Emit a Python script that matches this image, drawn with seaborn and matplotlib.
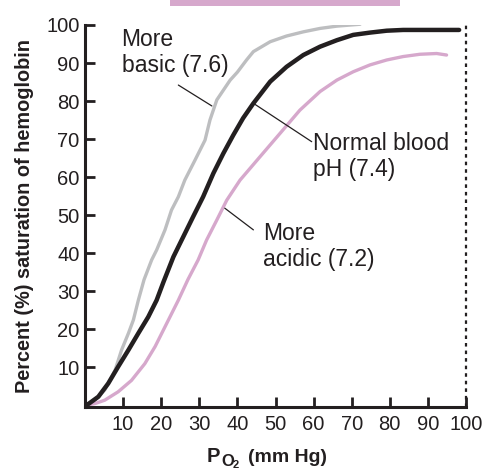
import matplotlib
matplotlib.use("Agg")
import matplotlib.pyplot as plt
from matplotlib.patches import Rectangle
import numpy as np
import pandas as pd
import seaborn as sns

# oxygen-hemoglobin dissociation curves
basic_po2 = [0, 2.6, 5.2, 7.9, 9.6, 11.4, 12.7, 14.0, 15.5, 17.5, 18.8, 21.0,
             22.7, 24.5, 26.2, 28.9, 31.5, 32.8, 34.6, 38.1, 40.0, 42.4, 44.2,
             48.6, 52.9, 57.3, 61.7, 66.1, 72.2]
basic_sat = [0, 1.3, 4.0, 9.2, 14.5, 18.9, 22.4, 27.6, 33.0, 38.2, 40.8, 46.1,
             51.3, 54.8, 59.2, 64.5, 69.7, 75.0, 80.3, 85.5, 87.6, 90.8, 93.0,
             95.6, 97.1, 98.2, 99.1, 99.7, 100.2]

normal_po2 = [0, 0.9, 3.5, 6.1, 8.7, 11.4, 14.0, 16.6, 18.8, 20.6, 23.2, 25.8,
              28.4, 31.0, 33.7, 36.3, 38.9, 41.5, 44.2, 48.6, 52.9, 57.3, 61.7,
              66.1, 70.4, 74.8, 79.2, 83.5, 98.2]
normal_sat = [0, 0.3, 2.2, 5.7, 10.1, 14.5, 18.9, 23.2, 27.6, 32.4, 39.0, 44.3,
              49.6, 54.8, 61.0, 66.2, 71.0, 75.5, 79.4, 85.1, 89.0, 92.1, 94.3,
              96.0, 97.4, 98.0, 98.5, 98.7, 98.7]

acidic_po2 = [0.5, 2.6, 5.2, 8.7, 12.2, 15.7, 18.4, 21.0, 23.2, 24.5, 27.0,
              29.7, 31.9, 34.6, 37.2, 40.7, 45.9, 51.2, 56.4, 61.7, 66.1, 70.4,
              74.8, 79.2, 83.5, 87.9, 92.3, 94.9]
acidic_sat = [0, 0.4, 1.3, 3.5, 6.5, 10.9, 15.4, 20.6, 25.0, 27.6, 33.0,
              38.2, 43.4, 48.7, 53.9, 59.2, 65.3, 71.5, 77.6, 82.5, 85.5, 87.7,
              89.5, 90.8, 91.7, 92.3, 92.5, 92.1]

ticks = [10, 20, 30, 40, 50, 60, 70, 80, 90, 100]

ink = "#231F20"
gray = "#BDBEC0"
pink = "#D6A8CC"

sns.set_style("ticks")
plt.rcParams["font.family"] = ["Liberation Sans", "DejaVu Sans"]

fig = plt.figure(figsize=(4.87, 4.71), dpi=100)
ax = fig.add_axes([85 / 487, 64 / 471, 381 / 487, 382 / 471])

df = pd.concat([
    pd.DataFrame({"po2": basic_po2, "sat": basic_sat, "ph": "7.6"}),
    pd.DataFrame({"po2": normal_po2, "sat": normal_sat, "ph": "7.4"}),
    pd.DataFrame({"po2": acidic_po2, "sat": acidic_sat, "ph": "7.2"}),
])
for ph, col, lw in [("7.6", gray, 2.4), ("7.2", pink, 2.4), ("7.4", ink, 3.2)]:
    sub = df[df["ph"] == ph]
    sns.lineplot(data=sub, x="po2", y="sat", color=col, linewidth=lw,
                 sort=False, estimator=None, ax=ax,
                 solid_capstyle="round", solid_joinstyle="round")

ax.set_xlim(0, 100)
ax.set_ylim(-0.5, 100)
ax.set_xticks(ticks)
ax.set_yticks(ticks)
ax.tick_params(direction="in", length=7, width=2, colors=ink, labelsize=14.5)
ax.tick_params(axis="x", pad=6)
ax.tick_params(axis="y", pad=4)
for s in ["top", "right"]:
    ax.spines[s].set_visible(False)
for s in ["left", "bottom"]:
    ax.spines[s].set_linewidth(2.2)
    ax.spines[s].set_color(ink)

# dashed limit at 100 mm Hg
ax.vlines(100, -0.5, 100, colors=ink, linewidth=1.6,
          linestyles=(0, (1.6, 1.8)), clip_on=False)

ax.set_ylabel("Percent (%) saturation of hemoglobin", fontsize=14.3,
              fontweight="bold", color=ink, labelpad=9)
ax.set_xlabel("")

# x label built from pieces so the subscripts keep their size
W, H = 487.0, 471.0
xl = dict(fontweight="bold", color=ink, va="baseline", ha="left")
fig.text(207 / W, (H - 462) / H, "P", fontsize=14.5, **xl)
fig.text(221 / W, (H - 465.5) / H, "O", fontsize=12, **xl)
fig.text(233 / W, (H - 468) / H, "2", fontsize=8, **xl)
fig.text(248 / W, (H - 462) / H, "(mm Hg)", fontsize=14, **xl)

# curve labels with leader lines
lab = dict(fontsize=16.5, color=ink, ha="left", va="top", linespacing=1.15)
ax.text(9.6, 99.2, "More\nbasic (7.6)", **lab)
ax.text(59.8, 71.8, "Normal blood\npH (7.4)", **lab)
ax.text(46.8, 48.1, "More\nacidic (7.2)", **lab)
lead = dict(arrowstyle="-", lw=0.9, color=ink, shrinkA=0, shrinkB=0)
ax.annotate("", xy=(33.3, 78.7), xytext=(24.5, 84.2), arrowprops=lead)
ax.annotate("", xy=(44.2, 79.4), xytext=(59.5, 69.3), arrowprops=lead)
ax.annotate("", xy=(36.7, 51.8), xytext=(44.2, 46.1), arrowprops=lead)

# pink header strip cut off at the top of the picture
fig.add_artist(Rectangle((170 / W, 465 / H), 230 / W, 6 / H,
                         transform=fig.transFigure, color=pink, lw=0))

fig.savefig("out.png", dpi=100)
